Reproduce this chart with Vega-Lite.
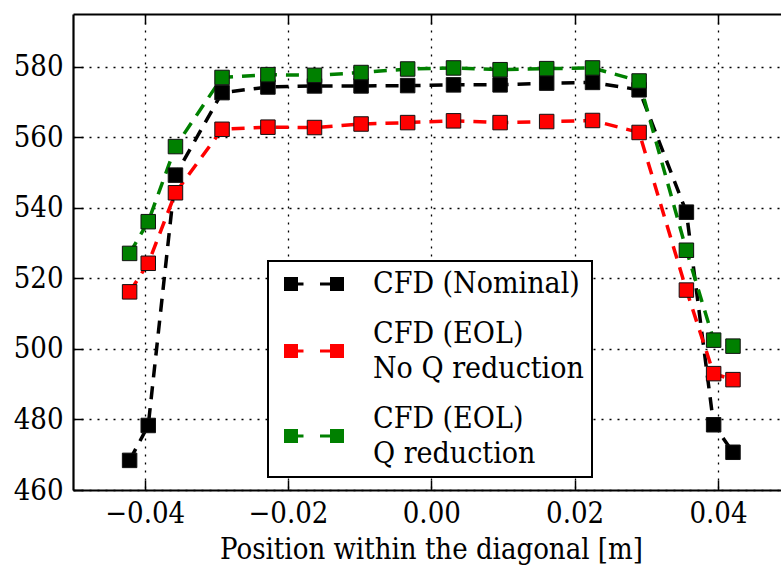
{
  "$schema": "https://vega.github.io/schema/vega-lite/v6.json",
  "width": 708,
  "height": 476,
  "autosize": {"type": "none"},
  "padding": {"left": 73, "top": 14, "right": 0, "bottom": 79},
  "background": "white",
  "config": {"view": {"stroke": null}, "font": "DejaVu Serif Condensed"},
  "data": {"values": [
    {"x": -0.0421, "y": 468.4, "s": "CFD (Nominal)"},
    {"x": -0.0395, "y": 478.3, "s": "CFD (Nominal)"},
    {"x": -0.0357, "y": 549.3, "s": "CFD (Nominal)"},
    {"x": -0.0292, "y": 572.7, "s": "CFD (Nominal)"},
    {"x": -0.0228, "y": 574.3, "s": "CFD (Nominal)"},
    {"x": -0.0163, "y": 574.6, "s": "CFD (Nominal)"},
    {"x": -0.0098, "y": 574.6, "s": "CFD (Nominal)"},
    {"x": -0.0033, "y": 574.7, "s": "CFD (Nominal)"},
    {"x": 0.0031, "y": 574.9, "s": "CFD (Nominal)"},
    {"x": 0.0096, "y": 574.9, "s": "CFD (Nominal)"},
    {"x": 0.0161, "y": 575.4, "s": "CFD (Nominal)"},
    {"x": 0.0225, "y": 575.6, "s": "CFD (Nominal)"},
    {"x": 0.0290, "y": 573.5, "s": "CFD (Nominal)"},
    {"x": 0.0356, "y": 538.8, "s": "CFD (Nominal)"},
    {"x": 0.0394, "y": 478.5, "s": "CFD (Nominal)"},
    {"x": 0.0421, "y": 470.7, "s": "CFD (Nominal)"},
    {"x": -0.0421, "y": 516.2, "s": "CFD (EOL) No Q reduction"},
    {"x": -0.0395, "y": 524.3, "s": "CFD (EOL) No Q reduction"},
    {"x": -0.0357, "y": 544.3, "s": "CFD (EOL) No Q reduction"},
    {"x": -0.0292, "y": 562.3, "s": "CFD (EOL) No Q reduction"},
    {"x": -0.0228, "y": 562.9, "s": "CFD (EOL) No Q reduction"},
    {"x": -0.0163, "y": 562.8, "s": "CFD (EOL) No Q reduction"},
    {"x": -0.0098, "y": 563.8, "s": "CFD (EOL) No Q reduction"},
    {"x": -0.0033, "y": 564.2, "s": "CFD (EOL) No Q reduction"},
    {"x": 0.0031, "y": 564.7, "s": "CFD (EOL) No Q reduction"},
    {"x": 0.0096, "y": 564.2, "s": "CFD (EOL) No Q reduction"},
    {"x": 0.0161, "y": 564.5, "s": "CFD (EOL) No Q reduction"},
    {"x": 0.0225, "y": 564.8, "s": "CFD (EOL) No Q reduction"},
    {"x": 0.0290, "y": 561.4, "s": "CFD (EOL) No Q reduction"},
    {"x": 0.0356, "y": 516.7, "s": "CFD (EOL) No Q reduction"},
    {"x": 0.0394, "y": 493.0, "s": "CFD (EOL) No Q reduction"},
    {"x": 0.0421, "y": 491.3, "s": "CFD (EOL) No Q reduction"},
    {"x": -0.0421, "y": 527.1, "s": "CFD (EOL) Q reduction"},
    {"x": -0.0395, "y": 536.1, "s": "CFD (EOL) Q reduction"},
    {"x": -0.0357, "y": 557.4, "s": "CFD (EOL) Q reduction"},
    {"x": -0.0292, "y": 577.0, "s": "CFD (EOL) Q reduction"},
    {"x": -0.0228, "y": 577.8, "s": "CFD (EOL) Q reduction"},
    {"x": -0.0163, "y": 577.6, "s": "CFD (EOL) Q reduction"},
    {"x": -0.0098, "y": 578.4, "s": "CFD (EOL) Q reduction"},
    {"x": -0.0033, "y": 579.4, "s": "CFD (EOL) Q reduction"},
    {"x": 0.0031, "y": 579.7, "s": "CFD (EOL) Q reduction"},
    {"x": 0.0096, "y": 579.2, "s": "CFD (EOL) Q reduction"},
    {"x": 0.0161, "y": 579.5, "s": "CFD (EOL) Q reduction"},
    {"x": 0.0225, "y": 579.7, "s": "CFD (EOL) Q reduction"},
    {"x": 0.0290, "y": 576.0, "s": "CFD (EOL) Q reduction"},
    {"x": 0.0356, "y": 528.0, "s": "CFD (EOL) Q reduction"},
    {"x": 0.0394, "y": 502.5, "s": "CFD (EOL) Q reduction"},
    {"x": 0.0421, "y": 500.8, "s": "CFD (EOL) Q reduction"}
  ]},
  "layer": [
    {
      "mark": {"type": "line", "strokeDash": [13, 9], "strokeWidth": 3.5},
      "encoding": {
        "x": {"field": "x", "type": "quantitative",
          "scale": {"domain": [-0.05, 0.0488], "nice": false, "zero": false},
          "axis": {"orient": "bottom", "values": [-0.04, -0.02, 0, 0.02, 0.04], "format": ".2f",
            "tickSize": -10, "tickWidth": 1.5, "tickColor": "black",
            "domainColor": "black", "domainWidth": 2.2,
            "labelFontSize": 29, "labelFont": "DejaVu Serif Condensed", "labelColor": "black", "labelPadding": 19,
            "labelFlush": false, "labelOverlap": false,
            "grid": true, "gridColor": "black", "gridDash": [2, 6], "gridWidth": 1.3,
            "title": "Position within the diagonal [m]", "titleFontSize": 29, "titleFontWeight": "normal",
            "titleFont": "DejaVu Serif Condensed", "titleColor": "black", "titlePadding": 7, "titleX": 358}},
        "y": {"field": "y", "type": "quantitative",
          "scale": {"domain": [460, 595], "nice": false, "zero": false},
          "axis": {"values": [460, 480, 500, 520, 540, 560, 580],
            "tickSize": -10, "tickWidth": 1.5, "tickColor": "black",
            "domainColor": "black", "domainWidth": 2.2,
            "labelFontSize": 29, "labelFont": "DejaVu Serif Condensed", "labelColor": "black", "labelPadding": 20,
            "labelFlush": false, "labelOverlap": false,
            "grid": true, "gridColor": "black", "gridDash": [2, 6], "gridWidth": 1.3,
            "title": null}},
        "color": {"field": "s", "type": "nominal",
          "scale": {"domain": ["CFD (Nominal)", "CFD (EOL) No Q reduction", "CFD (EOL) Q reduction"], "range": ["#000000", "#ff0000", "#008000"]},
          "legend": {"orient": "none", "legendX": 195, "legendY": 247, "title": null,
            "symbolType": "M-4.286,-1H-2.286V-0.214H-1.5V0.214H-2.286V1H-4.286Z M0.857,-0.214H2.286V-1H4.286V1H2.286V0.214H0.857Z",
            "symbolSize": 196, "symbolStrokeWidth": 0, "symbolOffset": 23,
            "labelFontSize": 30, "labelFont": "DejaVu Serif Condensed", "labelColor": "black", "labelLimit": 0, "labelOffset": 44,
            "labelExpr": "datum.label == 'CFD (Nominal)' ? datum.label : [slice(datum.label, 0, 9), slice(datum.label, 10)]",
            "rowPadding": 19, "padding": 8, "strokeColor": "black", "fillColor": "white",
            "encode": {
              "symbols": {"update": {"fill": {"scale": "color", "field": "value"}, "stroke": {"value": "transparent"}, "opacity": {"value": 1}}},
              "labels": {"update": {"lineHeight": {"value": 35}, "dy": {"signal": "datum.value == 'CFD (Nominal)' ? 0 : -17.5"}}},
              "legend": {"update": {"strokeWidth": {"value": 2}}}
            }}}
      }
    },
    {
      "mark": {"type": "square", "size": 210, "filled": true, "opacity": 1, "stroke": "#111111", "strokeWidth": 1},
      "encoding": {
        "x": {"field": "x", "type": "quantitative", "axis": null},
        "y": {"field": "y", "type": "quantitative"},
        "color": {"field": "s", "type": "nominal"}
      }
    },
    {
      "mark": {"type": "point", "opacity": 0},
      "encoding": {
        "x": {"field": "x", "type": "quantitative",
          "axis": {"orient": "top", "values": [-0.04, -0.02, 0, 0.02, 0.04], "labels": false, "grid": false,
            "tickSize": -10, "tickWidth": 1.5, "tickColor": "black", "domainColor": "black", "domainWidth": 2.2, "title": null}},
        "y": {"field": "y", "type": "quantitative"}
      }
    }
  ],
  "resolve": {"axis": {"x": "independent"}}
}
